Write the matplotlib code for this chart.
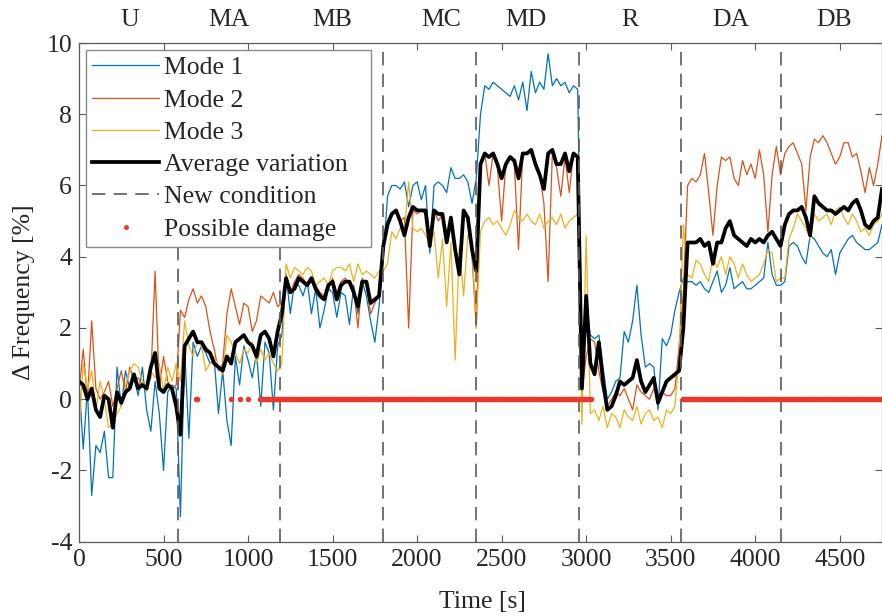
"""variação de frequência dos modos ao longo do ensaio."""

import matplotlib

matplotlib.use("Agg")
import matplotlib.pyplot as plt
import matplotlib.transforms as mtransforms
import numpy as np
from matplotlib.lines import Line2D

# tempo de amostragem (s)
time = np.arange(0, 4751, 25)

# variação de frequência [%] por modo (blocos: U, MA, MB, MC, MD, R, DA, DB)
mode1 = (
    [0.5, -1.4, 0.3, -2.7, -1.3, -1.5, -0.9, -2.2, -2.2, 0.9, -0.2, 0.8, 0.3, 0.6, 0.1, 0.9, -0.3, -0.9, 0.5, -0.4, -2.0, 0.2, 0.4, 0.3]
    + [-3.3, 1.4, -1.1, 1.6, 1.2, 1.5, 1.3, 1.0, 1.1, -0.4, 0.8, -0.6, -1.3, 1.2, 0.4, 1.5, 1.1, 0.6, 1.3, -0.2, 1.6, 1.3, -0.3, 1.5]
    + [1.8, 3.5, 2.4, 3.3, 3.2, 2.9, 3.3, 2.4, 3.1, 2.0, 2.5, 3.1, 3.0, 2.3, 3.0, 2.9, 2.1, 3.2, 2.4, 3.3, 2.9, 2.2, 1.6, 2.6]
    + [4.0, 5.7, 6.0, 6.0, 5.9, 6.1, 5.4, 6.0, 6.1, 5.6, 6.0, 4.1, 6.0, 6.1, 6.0, 5.8, 6.5, 6.2, 6.2, 6.3, 6.1, 5.5, 6.2]
    + [8.0, 8.8, 8.7, 8.9, 8.8, 8.7, 8.6, 8.5, 8.8, 8.4, 8.9, 8.1, 9.2, 8.6, 8.9, 8.7, 9.7, 8.8, 9.0, 8.8, 8.9, 8.6, 8.8, 8.7]
    + [1.0, 2.6, 1.8, 1.7, 1.8, 0.9, 0.0, 0.2, 0.5, 0.6, 1.9, 1.6, 2.2, 3.2, 1.8, 0.9, 1.0, 0.9, -0.3, 1.7, 1.5, 1.8, 2.5, 3.0]
    + [3.4, 3.3, 3.3, 3.2, 3.3, 3.1, 3.0, 3.3, 3.6, 3.0, 3.2, 3.7, 3.1, 3.2, 3.3, 3.1, 3.1, 3.2, 3.3, 3.4, 4.4, 3.5, 3.2, 3.2]
    + [3.3, 4.3, 4.4, 4.3, 4.0, 3.8, 4.6, 4.5, 4.3, 4.1, 4.0, 4.2, 3.5, 4.1, 4.3, 4.5, 4.6, 4.4, 4.3, 4.2, 4.2, 4.3, 4.4, 4.9]
)
mode2 = (
    [0.2, 1.4, 0.0, 2.2, 0.3, 0.0, 0.2, 0.5, -0.2, 0.3, 0.8, 0.2, 0.9, 0.5, 0.6, 0.4, 0.3, 0.6, 3.6, 0.3, 1.2, 0.5, 0.3, 0.4]
    + [2.5, 2.3, 2.8, 3.1, 2.7, 2.9, 2.6, 1.9, 1.4, 0.8, 1.0, 2.4, 3.1, 2.6, 2.1, 2.7, 2.6, 1.9, 2.2, 2.9, 2.8, 2.7, 3.0, 2.6]
    + [2.7, 3.3, 3.0, 3.3, 3.5, 3.4, 3.2, 3.3, 3.2, 3.0, 2.9, 3.1, 3.4, 3.0, 3.3, 3.4, 3.2, 3.1, 2.0, 3.4, 3.2, 2.4, 2.7, 2.9]
    + [4.5, 5.0, 5.2, 5.3, 5.0, 5.1, 2.0, 5.3, 5.2, 5.3, 5.2, 4.4, 5.3, 5.0, 5.2, 4.5, 5.1, 4.3, 3.6, 5.3, 5.0, 4.0, 2.0]
    + [6.5, 6.9, 6.0, 6.9, 6.5, 5.0, 6.6, 6.8, 6.6, 4.2, 6.9, 6.9, 7.0, 6.5, 6.3, 5.5, 3.3, 6.9, 6.5, 5.7, 6.8, 5.8, 6.9, 6.8]
    + [0.2, 1.2, 1.7, 1.6, 0.8, 0.2, -0.2, 0.0, 0.2, 0.1, 0.3, 0.0, -0.3, 0.4, 0.2, 0.1, 0.0, 0.3, 0.1, 0.2, 0.1, 0.1, 0.3, 1.5]
    + [3.0, 6.0, 6.2, 6.1, 6.3, 6.9, 5.8, 4.6, 6.0, 6.8, 6.7, 6.8, 6.2, 6.0, 6.7, 6.3, 6.6, 6.2, 7.0, 6.3, 4.7, 6.3, 7.1, 6.3]
    + [6.9, 7.1, 7.2, 6.9, 6.6, 5.3, 6.8, 7.3, 7.2, 7.4, 7.2, 6.9, 6.6, 6.8, 7.2, 7.2, 6.8, 6.9, 6.4, 5.8, 6.5, 6.0, 6.6, 7.4]
)
mode3 = (
    [-0.9, 1.0, 0.3, 0.8, -0.3, 0.5, 0.0, -0.8, -0.7, -0.4, -0.2, 0.4, 0.8, 1.0, 0.9, 0.5, 0.2, 0.8, 0.6, 1.0, 0.2, 0.9, 0.5, 1.0]
    + [0.5, 2.2, 1.5, 1.2, 1.6, 1.5, 0.8, 1.0, 1.2, 0.9, 0.7, 1.8, 1.6, 1.3, 1.0, 1.4, 1.3, 1.6, 1.0, 1.4, 1.1, 1.3, 1.0, 0.8]
    + [1.0, 3.8, 3.4, 3.7, 3.6, 3.5, 3.7, 3.6, 3.2, 3.3, 3.4, 3.2, 3.6, 3.7, 3.7, 3.6, 3.8, 3.3, 3.8, 3.5, 3.6, 3.5, 3.4, 3.6]
    + [3.6, 3.8, 4.7, 4.5, 4.8, 4.7, 6.1, 4.8, 4.7, 4.8, 4.6, 4.4, 4.7, 3.4, 4.5, 2.6, 4.4, 1.1, 4.3, 2.9, 4.6, 4.3, 2.0]
    + [4.7, 5.0, 5.1, 4.9, 5.0, 4.8, 4.6, 4.9, 5.3, 5.1, 5.0, 5.2, 5.0, 4.9, 5.2, 4.8, 5.0, 5.1, 4.9, 5.2, 4.8, 5.0, 5.1, 5.2]
    + [-0.7, 4.6, -0.4, -0.3, -0.6, -0.2, -0.8, -0.4, -0.5, -0.8, -0.3, -0.5, -0.6, -0.2, -0.7, -0.4, -0.3, -0.6, -0.5, -0.8, -0.3, -0.4, -0.2, 1.2]
    + [4.9, 3.5, 3.4, 3.9, 3.8, 3.5, 3.3, 4.0, 3.7, 4.0, 3.5, 4.0, 3.8, 3.4, 3.8, 3.5, 3.3, 3.4, 3.5, 3.8, 4.2, 4.1, 3.3, 3.4]
    + [3.4, 4.5, 4.8, 5.2, 5.0, 4.8, 4.5, 5.2, 5.0, 5.1, 5.2, 4.9, 5.3, 5.4, 5.1, 4.9, 5.2, 5.0, 4.7, 4.8, 4.6, 4.9, 5.0, 5.2]
)
average = (
    [0.5, 0.4, 0.0, 0.3, -0.3, -0.5, 0.1, 0.0, -0.8, 0.2, -0.1, 0.2, 0.3, 0.7, 0.3, 0.4, 0.3, 0.9, 1.3, 0.3, 0.2, 0.4, 0.3, -0.2]
    + [-1.0, 1.5, 1.7, 1.9, 1.6, 1.6, 1.4, 1.3, 1.0, 0.9, 0.8, 1.2, 1.0, 1.6, 1.7, 1.8, 1.6, 1.5, 1.2, 1.8, 1.9, 1.7, 1.2, 1.9]
    + [2.4, 3.4, 3.0, 3.1, 3.4, 3.3, 3.2, 3.4, 3.1, 2.9, 2.8, 3.2, 3.3, 2.8, 3.2, 3.3, 3.3, 3.0, 2.6, 3.3, 3.3, 2.7, 2.8, 2.9]
    + [4.3, 4.9, 5.2, 5.3, 5.0, 4.6, 5.1, 5.4, 5.3, 5.3, 5.3, 4.3, 5.3, 5.2, 5.2, 4.4, 5.1, 4.2, 3.5, 5.3, 5.1, 4.2, 3.6]
    + [6.6, 6.9, 6.8, 6.9, 6.6, 6.2, 6.6, 6.8, 6.7, 6.2, 6.9, 6.9, 7.0, 6.6, 6.3, 5.9, 6.9, 7.0, 6.6, 6.6, 6.9, 6.4, 6.9, 6.8]
    + [0.3, 2.9, 1.0, 0.7, 1.6, 0.5, -0.3, -0.2, 0.1, 0.5, 0.4, 0.5, 0.6, 1.1, 0.5, 0.2, 0.4, 0.6, -0.1, 0.2, 0.5, 0.6, 0.7, 0.8]
    + [2.0, 4.4, 4.4, 4.4, 4.5, 4.3, 4.4, 3.8, 4.4, 4.4, 4.8, 5.0, 4.6, 4.5, 4.4, 4.3, 4.5, 4.4, 4.5, 4.4, 4.6, 4.7, 4.5, 4.3]
    + [4.9, 5.2, 5.3, 5.3, 5.4, 5.1, 4.6, 5.7, 5.5, 5.4, 5.3, 5.3, 5.2, 5.3, 5.4, 5.3, 5.5, 5.6, 5.3, 4.9, 4.8, 5.0, 5.1, 5.9]
)

# condições de ensaio
conditions = ["U", "MA", "MB", "MC", "MD", "R", "DA", "DB"]
condition_label_x = [300, 887, 1495, 2145, 2641, 3256, 3853, 4468]
condition_changes = [585, 1190, 1800, 2350, 2957, 3562, 4151]

# detecção de dano: instantes avaliados (s) e intervalos com possível dano
detection_time = np.arange(0, 4751, 10)
damage_spans = [(690, 700), (900, 900), (950, 950), (1000, 1000), (1070, 3030), (3570, 4750)]
damage_level = 0.0

BLUE = "#0072BD"
ORANGE = "#D95319"
YELLOW = "#EDB120"
RED = "#E8392F"
AXIS_GRAY = "#5a5a5a"
TEXT = "#262626"
FONT = 18.5

plt.rcParams["font.family"] = ["Liberation Serif", "DejaVu Serif"]
plt.rcParams["font.size"] = FONT
plt.rcParams["axes.unicode_minus"] = False
plt.rcParams["text.color"] = TEXT
plt.rcParams["xtick.color"] = AXIS_GRAY
plt.rcParams["ytick.color"] = AXIS_GRAY
plt.rcParams["xtick.labelcolor"] = TEXT
plt.rcParams["ytick.labelcolor"] = TEXT

fig = plt.figure(figsize=(8.82, 6.16), dpi=100)
ax = fig.add_axes([79 / 882, 1 - 541.7 / 616, 803 / 882, 498.7 / 616])

ax.plot(time, mode1, color=BLUE, linewidth=0.9, label="Mode 1")
ax.plot(time, mode2, color=ORANGE, linewidth=0.9, label="Mode 2")
ax.plot(time, mode3, color=YELLOW, linewidth=0.9, label="Mode 3")
ax.plot(time, average, color="black", linewidth=2.7, label="Average variation")

dash_style = (0, (8, 5))
for x in condition_changes:
    ax.axvline(x, color=AXIS_GRAY, linestyle=dash_style, linewidth=1.2)

mask = np.zeros(len(detection_time), dtype=bool)
for start, end in damage_spans:
    mask |= (detection_time >= start) & (detection_time <= end)
ax.plot(detection_time[mask], np.full(mask.sum(), damage_level), "o", color=RED,
        markersize=4.0, markeredgewidth=0)

# rótulos das condições acima do eixo
trans = mtransforms.blended_transform_factory(ax.transData, ax.transAxes)
for name, x in zip(conditions, condition_label_x):
    ax.text(x, 1.046, name, transform=trans, ha="center", va="center", fontsize=FONT)

ax.set_xlim(0, 4750)
ax.set_ylim(-4, 10)
ax.set_xticks(np.arange(0, 4501, 500))
ax.set_yticks(np.arange(-4, 11, 2))
ax.tick_params(direction="in", top=True, right=True, length=5, width=0.8, pad=5)
for spine in ax.spines.values():
    spine.set_color(AXIS_GRAY)
    spine.set_linewidth(0.9)

fig.text(482 / 882, 1 - 602 / 616, "Time [s]", ha="center", va="center", fontsize=FONT)
fig.text(24 / 882, 1 - 292 / 616, "\u0394 Frequency [%]", ha="center", va="center",
         rotation=90, fontsize=FONT)

handles = ax.get_legend_handles_labels()[0]
handles += [
    Line2D([], [], color=AXIS_GRAY, linestyle=dash_style, linewidth=1.2),
    Line2D([], [], marker="o", linestyle="none", color=RED, markersize=3.6, markeredgewidth=0),
]
labels = ["Mode 1", "Mode 2", "Mode 3", "Average variation", "New condition", "Possible damage"]
legend_box = (7 / 803, (541.7 - 246) / 498.7, 285 / 803, (246 - 50) / 498.7)
legend = ax.legend(
    handles, labels,
    loc="upper left", bbox_to_anchor=legend_box, mode="expand", borderaxespad=0,
    fancybox=False, framealpha=1, edgecolor="#8a8a8a",
    handlelength=2.6, handletextpad=0.2, labelspacing=0.36, borderpad=0.25,
    fontsize=FONT,
)
legend.get_frame().set_linewidth(1.0)

fig.savefig("out.png", dpi=100)
